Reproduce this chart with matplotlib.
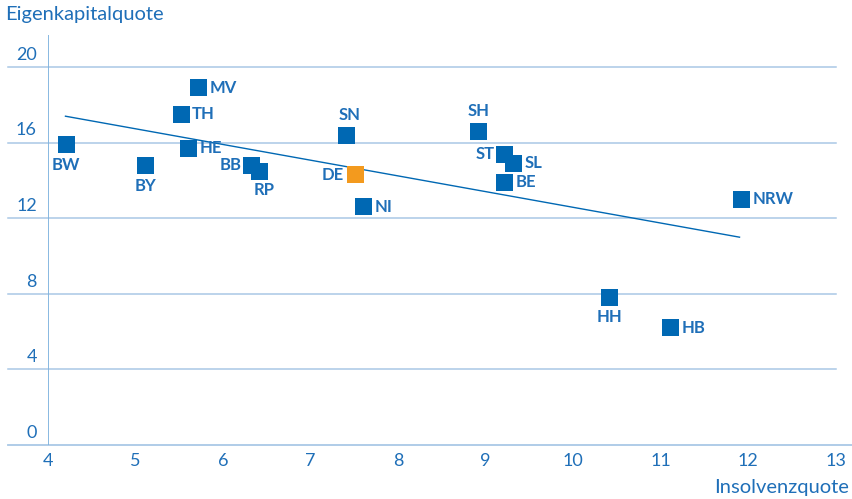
import matplotlib
matplotlib.use("Agg")
import matplotlib.pyplot as plt
from matplotlib.transforms import ScaledTranslation
import numpy as np

plt.rcParams['font.family'] = ['Lato', 'DejaVu Sans']

# Laender: Insolvenzquote (x), Eigenkapitalquote (y)
laender = ["BW", "BY", "TH", "MV", "HE", "BB", "RP", "SN", "DE", "NI",
           "SH", "ST", "SL", "BE", "NRW", "HH", "HB"]
insolvenz = [4.21, 5.11, 5.52, 5.72, 5.61, 6.32, 6.42, 7.41, 7.51, 7.61,
             8.92, 9.22, 9.32, 9.22, 11.92, 10.42, 11.11]
eigenkapital = [15.9, 14.8, 17.5, 18.9, 15.7, 14.8, 14.5, 16.4, 14.3, 12.6,
                16.6, 15.4, 14.9, 13.9, 13.0, 7.8, 6.2]
# Trendlinie (Anfang/Ende)
trend_x = [4.2, 11.9]
trend_y = [17.4, 11.0]

# label offsets in points (dx, dy, ha, va)
label_pos = {
    "BW": (0, -9, "center", "top"), "BY": (0, -9, "center", "top"),
    "TH": (8, 0, "left", "center"), "MV": (8, 0, "left", "center"),
    "HE": (8, 0, "left", "center"), "BB": (-7, 0, "right", "center"),
    "RP": (3, -8, "center", "top"), "SN": (2, 9, "center", "bottom"),
    "DE": (-8, 0, "right", "center"), "NI": (8, 0, "left", "center"),
    "SH": (0, 9, "center", "bottom"), "ST": (-7, 0, "right", "center"),
    "SL": (8, 0, "left", "center"), "BE": (8, 0, "left", "center"),
    "NRW": (8, 0, "left", "center"), "HH": (0, -8, "center", "top"),
    "HB": (8, 0, "left", "center"),
}

blau = "#0068b3"
orange = "#f39a1e"
text_blau = "#1f6fb8"
grid_blau = "#a9c8e6"

fig = plt.figure(figsize=(8.52, 4.99), dpi=100)
ax = fig.add_axes([0.0563, 0.108, 0.9247, 0.822])
ax.set_xlim(4, 13)
ax.set_ylim(0, 21.7)

for v in [4, 8, 12, 16, 20]:
    ax.axhline(v, xmin=-0.051, xmax=1.0, color=grid_blau, lw=1.1, clip_on=False, zorder=1)
ax.axhline(0, xmin=-0.051, xmax=1.02, color=grid_blau, lw=1.3, clip_on=False, zorder=1)

for s in ax.spines.values():
    s.set_visible(False)
ax.axvline(4, ymin=0, ymax=1, color="#7fb3de", lw=1.3, zorder=1)

ax.plot(trend_x, trend_y, color=blau, lw=1.0, zorder=2)

farben = [orange if l == "DE" else blau for l in laender]
ax.scatter(insolvenz, eigenkapital, marker="s", s=150, c=farben, linewidths=0, zorder=3)

for l, x, y in zip(laender, insolvenz, eigenkapital):
    dx, dy, ha, va = label_pos[l]
    ax.annotate(l, (x, y), xytext=(dx, dy), textcoords="offset points",
                ha=ha, va=va, fontsize=12, fontweight="bold", color=text_blau, zorder=4)

ax.set_xticks(range(4, 14))
ax.set_yticks([0, 4, 8, 12, 16, 20])
ax.tick_params(length=0, colors=text_blau, labelsize=13)
ax.tick_params(axis="x", pad=6)
ax.tick_params(axis="y", pad=8)
for lab in ax.get_yticklabels():
    lab.set_transform(lab.get_transform() + ScaledTranslation(0, 10 / 72, fig.dpi_scale_trans))

fig.text(0.006, 0.988, "Eigenkapitalquote", ha="left", va="top", fontsize=14.5, color=text_blau)
fig.text(0.996, 0.006, "Insolvenzquote", ha="right", va="bottom", fontsize=14.5, color=text_blau)

fig.savefig("out.png", dpi=100)
